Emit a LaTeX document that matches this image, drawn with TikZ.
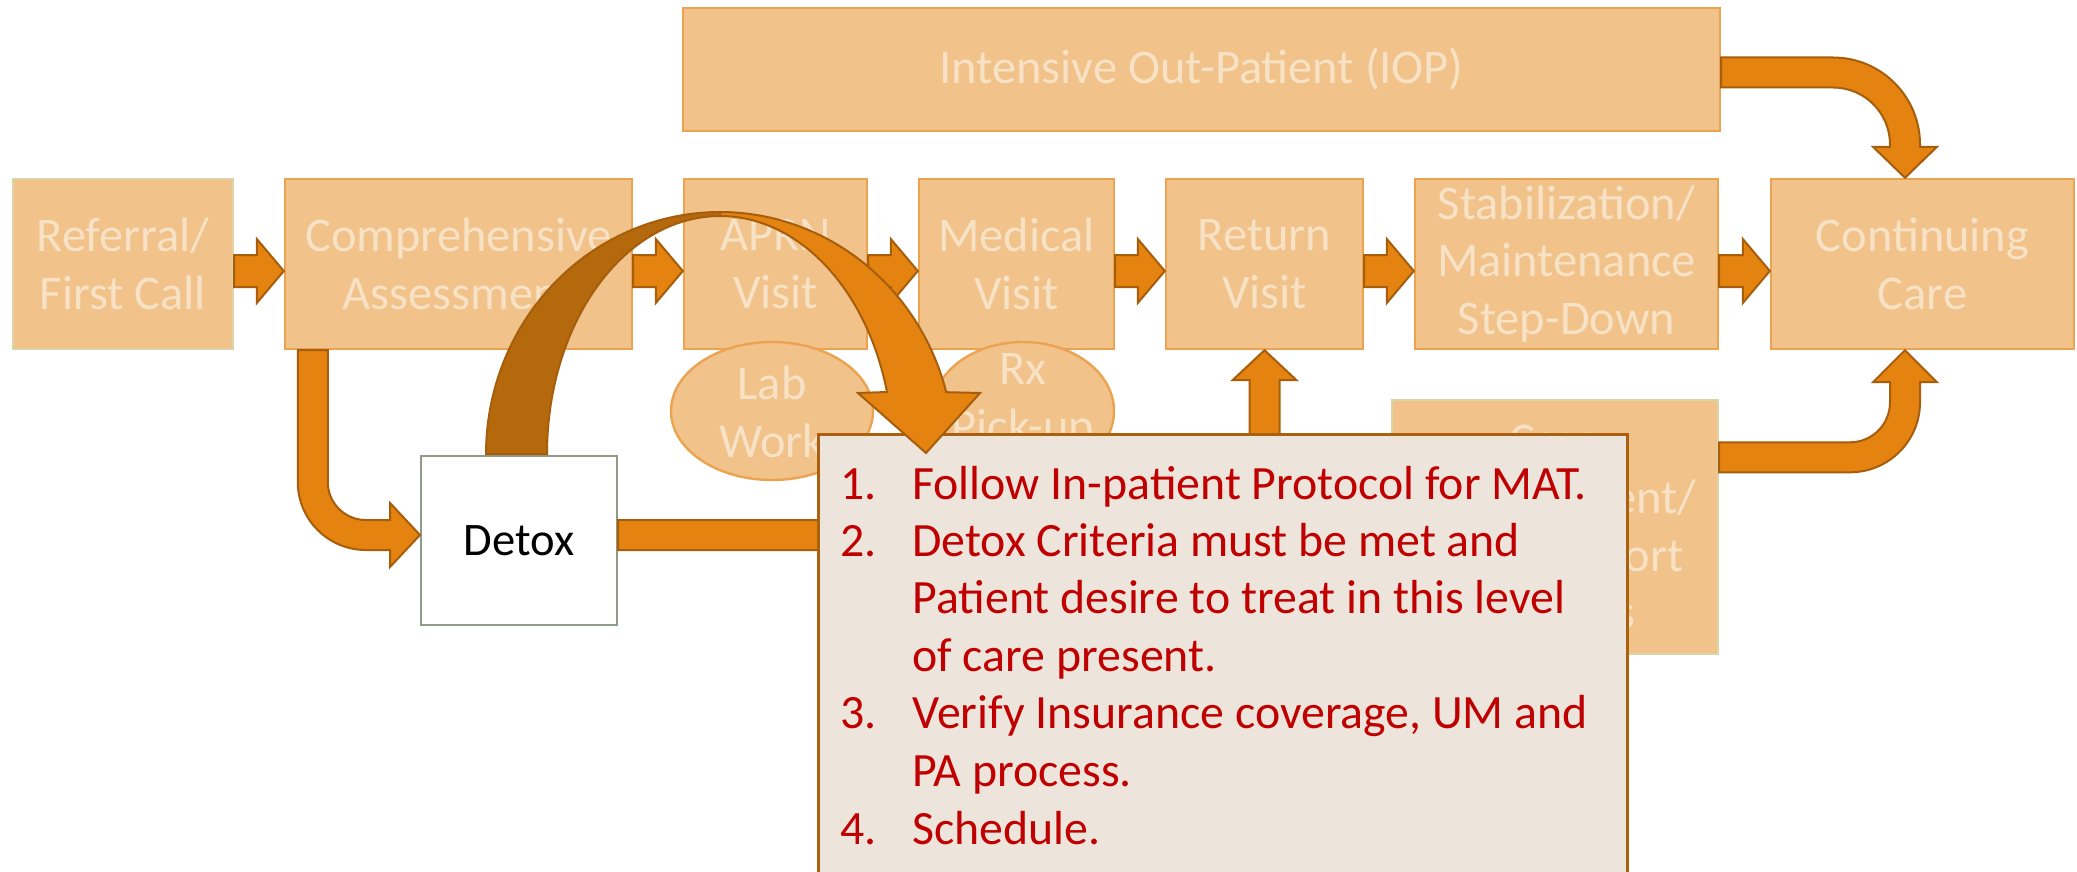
\documentclass[tikz,border=0pt]{standalone}
\usepackage{fontspec}
\setmainfont{Carlito}
\usetikzlibrary{shapes.geometric,calc}

\definecolor{boxfill}{HTML}{F1C28A}
\definecolor{boxline}{HTML}{EBA352}
\definecolor{paleline}{HTML}{DCD4A6}
\definecolor{boxtext}{HTML}{F8E2C6}
\definecolor{arrowfill}{HTML}{E4830F}
\definecolor{arrowdark}{HTML}{B4690D}
\definecolor{arrowline}{HTML}{A65E0C}
\definecolor{notefill}{HTML}{EDE5DB}
\definecolor{noteline}{HTML}{A9600F}
\definecolor{notetext}{HTML}{C00000}
\definecolor{detoxline}{HTML}{8E9C86}

% straight block arrow between two boxes of the main row
\newcommand{\rowarrow}[2]{%
  \path[blockarrow] let \p1=(#1.east), \p2=(#2.west) in
    (\x1,{\y1+4.5pt}) -- ({\x2-13.5pt},{\y1+4.5pt}) -- ({\x2-13.5pt},{\y1+12.5pt})
    -- (\x2,{\y1-3.5pt}) -- ({\x2-13.5pt},{\y1-19.5pt}) -- ({\x2-13.5pt},{\y1-11.5pt})
    -- (\x1,{\y1-11.5pt}) -- cycle;}

\begin{document}
\begin{tikzpicture}[x=0.5pt,y=-0.5pt,
  stage/.style={draw=boxline, line width=1.2pt, fill=boxfill, text=boxtext,
    inner sep=0pt, align=center, font=\fontsize{24.2}{28.75}\selectfont},
  stagetext/.style={text=boxtext, inner sep=0pt, align=center,
    font=\fontsize{24.2}{28.75}\selectfont},
  bubble/.style={ellipse, draw=boxline, line width=1.2pt, fill=boxfill,
    inner sep=0pt, minimum height=69pt},
  blockarrow/.style={fill=arrowfill, draw=arrowline, line width=1pt, line join=miter},
  notebox/.style={draw=noteline, fill=notefill, line width=1.5pt, inner sep=0pt},
  noteline/.style={text=notetext, inner sep=0pt, anchor=base west,
    font=\fontsize{23.9}{28.75}\selectfont},
]
\path[use as bounding box, fill=white] (0,0) rectangle (2077,872);

% ---- programme stages ----
\node[stage, minimum width=518.5pt, minimum height=61.5pt] (iop) at (1201.5,69.5)
  {Intensive Out-Patient (IOP)};
\node[stage, draw=paleline, minimum width=110pt, minimum height=85pt] (ref) at (123,264)
  {Referral/\\First Call};
\node[stage, minimum width=173.5pt, minimum height=85pt] (comp) at (458.5,264)
  {Comprehensive\\Assessment};
\node[stage, minimum width=91.5pt, minimum height=85pt] (aprn) at (775.5,264)
  {APRN\\Visit};
\node[stage, minimum width=97.5pt, minimum height=85pt] (med) at (1016.5,264)
  {Medical\\Visit};
\node[stage, minimum width=98.5pt, minimum height=85pt] (ret) at (1264.5,264)
  {Return\\Visit};
\node[stage, minimum width=151.5pt, minimum height=85pt] (stab) at (1566.5,264)
  {Stabilization/\\Maintenance\\Step-Down};
\node[stage, minimum width=151.5pt, minimum height=85pt] (cont) at (1922.5,264)
  {Continuing\\Care};
\node[stage, draw=paleline, minimum width=163pt, minimum height=127pt] (case) at (1555,527)
  {Case\\Management/\\Peer Support\\Services};

% ---- side services ----
\node[bubble, minimum width=101pt] (lab) at (772,411) {};
\node[stagetext] (labtxt) at (772,412) {Lab\\Work};
\node[bubble, minimum width=91pt] (rx) at (1023,411) {};
\node[stagetext] (rxtxt) at (1023,402) {Rx\\Pick-up};

\node[draw=detoxline, line width=1pt, fill=white, minimum width=98pt, minimum height=84.5pt,
  inner sep=0pt, font=\fontsize{23.3}{27}\selectfont] (detox) at (519,540.5) {Detox};

% ---- main row flow ----
\rowarrow{ref}{comp}
\rowarrow{comp}{aprn}
\rowarrow{aprn}{med}
\rowarrow{med}{ret}
\rowarrow{ret}{stab}
\rowarrow{stab}{cont}

% IOP to continuing care
\path[blockarrow] let \p1=(iop.east), \p2=(cont.north) in
  (\x1,{\y1+6pt}) -- ({\x2-44.75pt},{\y1+6pt})
  arc[start angle=90, end angle=0, radius=43.5pt]
  -- ({\x2-1.25pt},{\y2+15.5pt}) -- ({\x2+7.25pt},{\y2+15.5pt}) -- ({\x2-8.75pt},\y2)
  -- ({\x2-24.75pt},{\y2+15.5pt}) -- ({\x2-16.25pt},{\y2+15.5pt})
  -- ({\x2-16.25pt},{\y1-37.5pt})
  arc[start angle=0, end angle=90, radius=28.5pt]
  -- (\x1,{\y1-9pt}) -- cycle;

% case management to continuing care
\path[blockarrow] let \p1=(case.north east), \p2=(cont.south) in
  (\x1,{\y1-36.75pt}) -- ({\x2-36.25pt},{\y1-36.75pt})
  arc[start angle=270, end angle=360, radius=35pt]
  -- ({\x2-1.25pt},{\y2-16pt}) -- ({\x2+7.25pt},{\y2-16pt}) -- ({\x2-8.75pt},\y2)
  -- ({\x2-24.75pt},{\y2-16pt}) -- ({\x2-16.25pt},{\y2-16pt})
  -- ({\x2-16.25pt},{\y1-1.75pt})
  arc[start angle=0, end angle=-90, radius=20pt]
  -- (\x1,{\y1-21.75pt}) -- cycle;

% assessment down to detox
\path[blockarrow] let \p1=(comp.south west), \p2=(detox.west) in
  ({\x1+7pt},\y1) -- ({\x1+7pt},{\y2+29.25pt})
  arc[start angle=180, end angle=270, radius=34pt]
  -- ({\x2-15pt},{\y2-4.75pt}) -- ({\x2-15pt},{\y2-13.25pt}) -- (\x2,{\y2+2.75pt})
  -- ({\x2-15pt},{\y2+18.75pt}) -- ({\x2-15pt},{\y2+10.25pt})
  -- ({\x1+41pt},{\y2+10.25pt})
  arc[start angle=270, end angle=180, radius=19pt]
  -- ({\x1+22pt},\y1) -- cycle;

% detox on to the return visit
\path[blockarrow] let \p1=(detox.east), \p2=(ret.south) in
  (\x1,{\y1+10.25pt}) -- ({\x2-7.5pt},{\y1+10.25pt}) -- ({\x2-7.5pt},{\y2-15pt})
  -- ({\x2-16pt},{\y2-15pt}) -- (\x2,\y2) -- ({\x2+16pt},{\y2-15pt})
  -- ({\x2+7.5pt},{\y2-15pt}) -- ({\x2+7.5pt},{\y1-4.75pt}) -- (\x1,{\y1-4.75pt}) -- cycle;

% ---- detox checklist ----
\node[notebox, minimum width=404.5pt, minimum height=233pt] (note) at (1222.5,667) {};
\node[noteline] (n1) at (840,499) {1.};
\node[noteline] (t1) at (912,499) {Follow In-patient Protocol for MAT.};
\node[noteline] (n2) at (840,556) {2.};
\node[noteline] (t2) at (912,556) {Detox Criteria must be met and};
\node[noteline] (t2b) at (912,613) {Patient desire to treat in this level};
\node[noteline] (t2c) at (912,671) {of care present.};
\node[noteline] (n3) at (840,728) {3.};
\node[noteline] (t3) at (912,728) {Verify Insurance coverage, UM and};
\node[noteline] (t3b) at (912,786) {PA process.};
\node[noteline] (n4) at (840,844) {4.};
\node[noteline] (t4) at (912,844) {Schedule.};

% ---- curved arrow from detox to the checklist ----
\begin{scope}[shift={(detox.north)}]
  \path[blockarrow, fill=arrowdark]
    plot[domain=180:90, samples=60] ({201+234*cos(\x)},{-1-242*sin(\x)})
    -- plot[domain=90:180, samples=60] ({201+173*cos(\x)},{-1-238*sin(\x)}) -- cycle;
  \path[blockarrow]
    plot[domain=90:14.8, samples=60] ({201+234*cos(\x)},{-1-242*sin(\x)})
    -- (461,-62) -- (407,-2) -- (339,-62)
    -- plot[domain=15.1:90, samples=60] ({201+173*cos(\x)},{-1-238*sin(\x)}) -- cycle;
\end{scope}
\end{tikzpicture}
\end{document}
